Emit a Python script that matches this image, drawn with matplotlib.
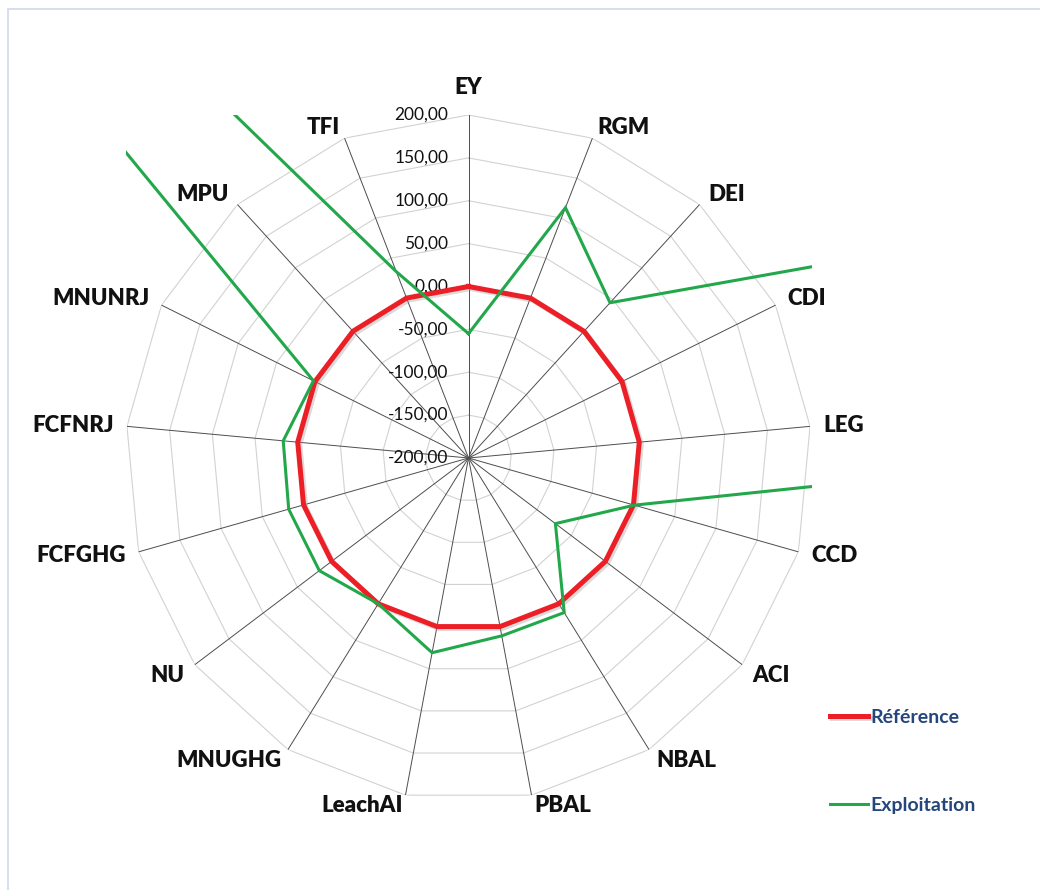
import numpy as np
import matplotlib
matplotlib.use("Agg")
import matplotlib.pyplot as plt
from matplotlib import patheffects as pe
from matplotlib.patches import Rectangle

# ---------------- data ----------------
categories = ["EY", "RGM", "DEI", "CDI", "LEG", "CCD", "ACI", "NBAL", "PBAL",
              "LeachAI", "MNUGHG", "NU", "FCFGHG", "FCFNRJ", "MNUNRJ", "MPU", "TFI"]
reference = [0, 0, 0, 0, 0, 0, 0, 0, 0, 0, 0, 0, 0, 0, 0, 0, 0]
exploitation = [-55, 113, 45, 330, 6000, 1, -73, 12, 11, 31, 0, 18, 18, 17, 2, 1400, 33]
r_ticks = [200, 150, 100, 50, 0, -50, -100, -150, -200]
series_names = ["Référence", "Exploitation"]

# ---------------- style ----------------
W, H = 1040, 890
cx, cy, R = 468.5, 458, 343
RED = "#ec1f27"
GREEN = "#22a74a"
LABEL_FONT = ["Lato", "DejaVu Sans"]

fig = plt.figure(figsize=(W / 100, H / 100), dpi=100)
fig.patch.set_facecolor("white")

# light outer frame
fig.patches.append(Rectangle((7.5 / W, -0.05), 2.0, (H - 8.5) / H + 0.05,
                             transform=fig.transFigure, fill=False,
                             edgecolor="#d3dcee", lw=1.3))

ax = fig.add_axes([(cx - R) / W, (H - cy - R) / H, 2 * R / W, 2 * R / H],
                  projection="polar")
ax.set_theta_zero_location("N")
ax.set_theta_direction(-1)
ax.set_ylim(r_ticks[-1], r_ticks[0])
ax.grid(False)
ax.spines["polar"].set_visible(False)
ax.set_xticks([])
ax.set_yticks([])
ax.patch.set_alpha(0)

n = len(categories)
theta = np.arange(n) * 2 * np.pi / n
tc = np.append(theta, theta[0])

# polygon grid rings
for v in r_ticks[:-1]:
    ax.plot(tc, [v] * (n + 1), color="#d2d2d2", lw=0.8, zorder=1)
# spokes
for t in theta:
    ax.plot([t, t], [r_ticks[-1], r_ticks[0]], color="#4d4d4d", lw=0.7, zorder=2)

# radial tick labels
for v in r_ticks:
    ax.annotate(f"{v:.2f}".replace(".", ","), xy=(0, v), xytext=(-20, 0),
                textcoords="offset pixels", ha="right", va="center",
                fontsize=12.5, family=LABEL_FONT, color="#111111", zorder=3)

# category labels
for t, lab in zip(theta, categories):
    s, c = np.sin(t), np.cos(t)
    ha = "left" if s > 0.1 else ("right" if s < -0.1 else "center")
    if c > 0.6:
        va = "bottom"
        dy = 17 if ha == "center" else 0
    elif c < -0.5:
        va = "top"
        dy = 0
    else:
        va = "center"
        dy = 14 * c
    dx = 13 * s
    ax.annotate(lab, xy=(t, r_ticks[0]), xytext=(dx, dy),
                textcoords="offset pixels", ha=ha, va=va,
                fontsize=16, fontweight="heavy", family=LABEL_FONT,
                color="#111111", annotation_clip=False)

# series
l_ref, = ax.plot(tc, reference + reference[:1], color=RED, lw=3.6, zorder=5,
                 solid_joinstyle="miter",
                 path_effects=[pe.SimpleLineShadow(offset=(1.5, -1.5),
                                                   shadow_color="#999999", alpha=0.35),
                               pe.Normal()])
l_exp, = ax.plot(tc, exploitation + exploitation[:1], color=GREEN, lw=2.2,
                 zorder=6, solid_joinstyle="miter")
for ln in (l_ref, l_exp):
    ln.set_clip_path(None)      # drop the circular clip
    ln.set_clip_box(ax.bbox)    # clip to the square plot area only
    ln.set_clip_on(True)

# legend
leg = fig.legend([l_ref, l_exp], series_names, loc="upper left",
                 bbox_to_anchor=(830 / W, 1 - 709 / H),
                 frameon=False, borderpad=0, borderaxespad=0,
                 handlelength=1.95, handletextpad=0.12, labelspacing=3.65,
                 prop={"family": LABEL_FONT, "weight": "bold", "size": 14})
for txt in leg.get_texts():
    txt.set_color("#24467a")

fig.savefig("out.png", dpi=100)
